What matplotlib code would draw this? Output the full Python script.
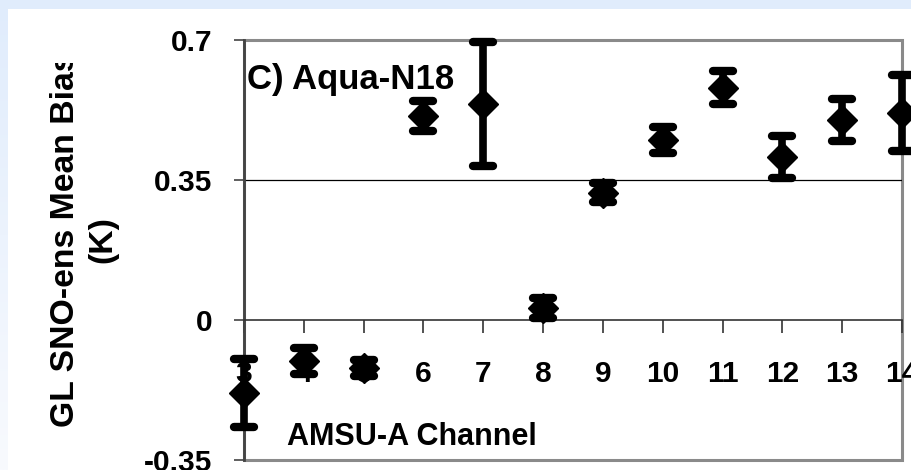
import matplotlib.pyplot as plt
import numpy as np
from matplotlib.patches import Rectangle
from matplotlib.markers import MarkerStyle
from matplotlib.transforms import Bbox, TransformedBbox

# AMSU-A channels and GL SNO-ens mean bias (K), Aqua-N18
channels = [3, 4, 5, 6, 7, 8, 9, 10, 11, 12, 13, 14]
mean_bias = [-0.183, -0.102, -0.120, 0.510, 0.539, 0.030, 0.318, 0.450, 0.581, 0.408, 0.500, 0.518]
bias_err = [0.085, 0.032, 0.021, 0.037, 0.155, 0.024, 0.024, 0.032, 0.042, 0.052, 0.053, 0.095]
y_ticks = [-0.35, 0, 0.35, 0.7]
y_ticklabels = ['-0.35', '0', '0.35', '0.7']

plt.rcParams['font.family'] = ['Liberation Sans', 'DejaVu Sans']
plt.rcParams['font.weight'] = 'bold'

W, H = 912, 470
fig = plt.figure(figsize=(W / 100, H / 100), dpi=100, facecolor='#e0ecfc')

# light blue frame: gradient on the left strip, white panel for the chart
bg = fig.add_axes([0, 0, 1, 1], zorder=-10)
bg.axis('off')
grad = np.linspace(0, 1, 200).reshape(-1, 1)
cmap = plt.matplotlib.colors.LinearSegmentedColormap.from_list('g', ['#e0ecfc', '#f8fafe'])
bg.imshow(grad, extent=[0, 8 / W, 0, 1], aspect='auto', cmap=cmap, origin='upper', transform=bg.transAxes)
bg.add_patch(Rectangle((8 / W, 0), 1, 1 - 9 / H, transform=bg.transAxes, facecolor='white', edgecolor='none'))
bg.set_xlim(0, 1)
bg.set_ylim(0, 1)

ax = fig.add_axes([244 / W, 1 - 460 / H, 658 / W, 420 / H])
ax.set_xlim(3, 14)
ax.set_ylim(-0.35, 0.7)
ax.set_facecolor('none')

# x axis sits at zero, plot area frame is gray
ax.spines['bottom'].set_position(('data', 0))
ax.spines['bottom'].set_color('#333333')
ax.spines['bottom'].set_linewidth(1.2)
ax.spines['left'].set_color('#444444')
ax.spines['left'].set_linewidth(2)
ax.spines['top'].set_visible(False)
ax.spines['right'].set_visible(False)
ax.add_patch(Rectangle((0, 0), 1, 1, transform=ax.transAxes, fill=False, edgecolor='#8a8a8a', lw=2.2, clip_on=False, zorder=1))
ax.axhline(0.35, color='black', lw=0.9, zorder=1)

ax.set_xticks(channels)
ax.set_xticklabels([str(c) for c in channels])
ax.set_yticks(y_ticks)
ax.set_yticklabels(y_ticklabels)
ax.tick_params(axis='x', direction='out', length=9, width=1.2, color='#333333', labelsize=21.5, pad=20)
ax.tick_params(axis='y', direction='out', length=7.5, width=1.2, color='#444444', labelsize=21.5, pad=15)

eb = ax.errorbar(channels, mean_bias, yerr=bias_err, fmt='D', color='black', ms=15, mew=1,
                 elinewidth=5.5, capsize=9, capthick=6, zorder=5)
for cl in eb[2]:
    cl.set_clip_on(False)
for cap in eb[1]:
    cap.set_marker(MarkerStyle('_', capstyle='round'))
    cap.set_markersize(15)
    cap.set_markeredgewidth(6)
    cap.set_clip_on(False)
eb[0].set_clip_on(False)
eb[0].set_zorder(6)

ax.text(0.004, 0.883, 'C) Aqua-N18', transform=ax.transAxes, fontsize=25, fontweight='bold', ha='left', va='baseline')
ax.text(0.0653, 0.0357, 'AMSU-A Channel', transform=ax.transAxes, fontsize=22, fontweight='bold', ha='left', va='baseline')

ylab = fig.text(84 / W, 1 - 240 / H, 'GL SNO-ens Mean Bias\n(K)', rotation=90, ha='center', va='center',
                multialignment='center', fontsize=24.3, fontweight='bold', linespacing=1.25)
ylab.set_clip_box(TransformedBbox(Bbox.from_extents(0, 0, 1, 1 - 63 / H), fig.transFigure))
ylab.set_clip_on(True)

fig.savefig('out.png', dpi=100, facecolor=fig.get_facecolor())
